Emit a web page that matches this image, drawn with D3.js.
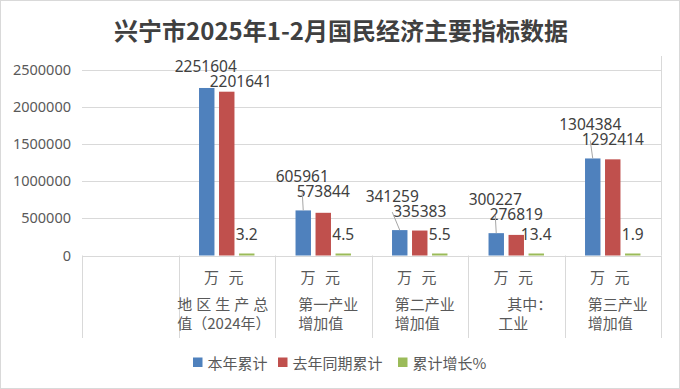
<!DOCTYPE html>
<html><head><meta charset="utf-8">
<script src="https://cdn.jsdelivr.net/npm/d3@7"></script>
<style>
html,body{margin:0;padding:0;background:#fff;}
svg{display:block;}
</style></head>
<body>
<svg id="chart" width="680" height="389"></svg>
<script>
// ---- data ----
const title = "兴宁市2025年1-2月国民经济主要指标数据";
const categories = ["", "地区生产总值（2024年）", "第一产业增加值", "第二产业增加值", "其中：工业", "第三产业增加值"];
const categoryLines = [[], ["地区生产总", "值（2024年）"], ["第一产业", "增加值"], ["第二产业", "增加值"], ["其中：", "工业"], ["第三产业", "增加值"]];
const units = ["", "万 元", "万 元", "万 元", "万 元", "万 元"];
const seriesNames = ["本年累计", "去年同期累计", "累计增长%"];
const thisYear = [null, 2251604, 605961, 341259, 300227, 1304384];
const lastYear = [null, 2201641, 573844, 335383, 276819, 1292414];
const growth = [null, 3.2, 4.5, 5.5, 13.4, 1.9];
const yTicks = [0, 500000, 1000000, 1500000, 2000000, 2500000];
const colors = ["#4f81bd", "#c0504d", "#9bbb59"];

// ---- layout ----
const W = 680, H = 389;
const plot = {left: 82, right: 661, top: 69.5, bottom: 255.5};
const svg = d3.select("#chart");
const textColor = "#595959", labelColor = "#404040", gridColor = "#d9d9d9";
const cjk = "'Noto Sans CJK SC','Noto Sans',sans-serif";
const num = "'Noto Sans','Liberation Sans',sans-serif";

svg.append("rect").attr("x", 0.5).attr("y", 0.5).attr("width", W - 1).attr("height", H - 1)
  .attr("fill", "#fff").attr("stroke", "#d9d9d9");

svg.append("text").attr("x", 341).attr("y", 29).attr("text-anchor", "middle")
  .attr("dominant-baseline", "central")
  .style("font-family", cjk).style("font-weight", "bold").style("font-size", "24px")
  .attr("fill", labelColor).text(title);

const x = d3.scaleBand().domain(categories).range([plot.left, plot.right]).paddingInner(0).paddingOuter(0);
const y = d3.scaleLinear().domain([0, 2500000]).range([plot.bottom, plot.top]);
const bw = x.bandwidth();
const step = bw * 0.2073, barW = bw * 0.16;

// gridlines
svg.append("g").selectAll("line").data(yTicks).join("line")
  .attr("x1", plot.left).attr("x2", plot.right)
  .attr("y1", d => Math.round(y(d)) + 0.5).attr("y2", d => Math.round(y(d)) + 0.5)
  .attr("stroke", gridColor).attr("stroke-width", 1);

// y axis labels
const yAxis = d3.axisLeft(y).tickValues(yTicks).tickSize(0).tickPadding(11).tickFormat(d3.format("d"));
const ga = svg.append("g").attr("transform", `translate(${plot.left},0)`).call(yAxis);
ga.select(".domain").remove();
ga.selectAll("text").style("font-family", num).style("font-size", "14.5px").attr("fill", textColor);

// category separators
const edges = categories.map(c => x(c)).concat([plot.right]);
svg.append("g").selectAll("line").data(edges).join("line")
  .attr("x1", d => Math.round(d) + 0.5).attr("x2", d => Math.round(d) + 0.5)
  .attr("y1", plot.bottom).attr("y2", 338)
  .attr("stroke", gridColor);
svg.append("line").attr("x1", plot.right + 0.5).attr("x2", plot.right + 0.5)
  .attr("y1", 56).attr("y2", plot.bottom).attr("stroke", gridColor);

// bars
const series = [thisYear, lastYear, growth];
const rows = [];
series.forEach((vals, si) => vals.forEach((v, ci) => {
  if (v == null) return;
  rows.push({si, ci, v, cx: x(categories[ci]) + bw / 2 + (si - 1) * step});
}));
svg.append("g").selectAll("rect").data(rows).join("rect")
  .attr("x", d => d.cx - barW / 2)
  .attr("width", barW)
  .attr("y", d => Math.min(y(d.v), plot.bottom - 2))
  .attr("height", d => Math.max(plot.bottom - y(d.v), 2))
  .attr("fill", d => colors[d.si]);

// data labels
const blueNudge = {1: -1, 3: -7.5, 5: -2.5};
const redNudge = {1: 14};
const lg = svg.append("g").style("font-family", num).style("font-size", "15.5px").attr("fill", labelColor);
rows.forEach(d => {
  let lx = d.cx, ly;
  const top = y(d.v);
  if (d.si === 0) {
    lx += (blueNudge[d.ci] || -1);
    ly = Math.max(top - 34, 66);
    const ey = ly + 16;
    if (top - ey > 6) {
      svg.append("line").attr("x1", d.cx).attr("y1", top).attr("x2", lx).attr("y2", ey)
        .attr("stroke", "#a6a6a6").attr("stroke-width", 1);
    }
  } else if (d.si === 1) {
    const bTop = y(thisYear[d.ci]);
    ly = Math.max(bTop - 34, 66) + 15;
    lx += (redNudge[d.ci] || 0);
  } else {
    ly = plot.bottom - 21.5;
  }
  lg.append("text").attr("x", lx).attr("y", ly).attr("text-anchor", "middle")
    .attr("dominant-baseline", "central").text(d.v);
});

// category labels
const cg = svg.append("g").style("font-family", cjk).style("font-size", "15px").attr("fill", textColor);
categories.forEach((c, i) => {
  if (!units[i]) return;
  const cx = x(c) + bw / 2;
  cg.append("text").attr("x", cx - 3).attr("y", 276).attr("text-anchor", "middle")
    .attr("dominant-baseline", "central").attr("word-spacing", "6px").text(units[i]);
  const startOff = i === 1 ? -49.5 : (i === 4 ? -18 : -25);
  categoryLines[i].forEach((line, li) => {
    const t = cg.append("text").attr("x", cx + startOff + (i === 4 && li === 0 ? 9 : 0))
      .attr("y", 303 + li * 19).attr("dominant-baseline", "central").text(line);
    if (i === 1 && li === 0) t.attr("letter-spacing", "4px");
  });
});

// legend
const legX = [193, 278, 398];
const leg = svg.append("g").style("font-family", cjk).style("font-size", "15px").attr("fill", textColor);
seriesNames.forEach((n, i) => {
  leg.append("rect").attr("x", legX[i]).attr("y", 357.5).attr("width", 9.5).attr("height", 9.5).attr("fill", colors[i]);
  leg.append("text").attr("x", legX[i] + 14.5).attr("y", 362).attr("dominant-baseline", "central").text(n);
});
</script>
</body></html>
